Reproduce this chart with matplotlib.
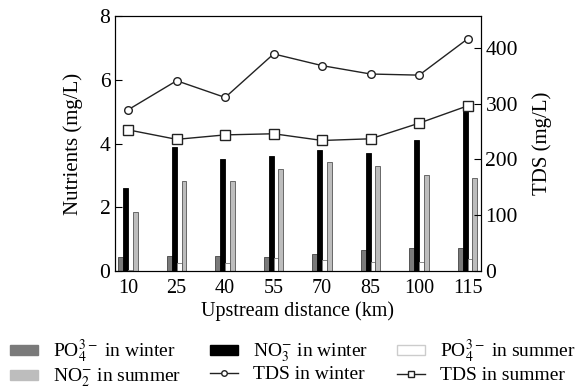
import numpy as np
import matplotlib.pyplot as plt
from matplotlib.lines import Line2D
from matplotlib.patches import Patch

plt.rcParams['font.family'] = ['Liberation Serif', 'DejaVu Serif']
plt.rcParams['mathtext.fontset'] = 'stix'

distance = [10, 25, 40, 55, 70, 85, 100, 115]
po4_winter = [0.43, 0.48, 0.47, 0.43, 0.55, 0.66, 0.71, 0.74]
no3_winter = [2.61, 3.90, 3.51, 3.60, 3.79, 3.71, 4.10, 5.25]
po4_summer = [0.05, 0.25, 0.25, 0.40, 0.34, 0.30, 0.28, 0.38]
no2_summer = [1.84, 2.82, 2.82, 3.20, 3.43, 3.30, 3.00, 2.92]
tds_winter = [289, 341, 311, 389, 368, 353, 351, 416]
tds_summer = [253, 236, 244, 246, 234, 237, 265, 296]

x = np.array(distance, dtype=float)
w = 1.5

fig = plt.figure(figsize=(5.79, 3.89), dpi=100)
ax = fig.add_axes([0.199, 0.303, 0.631, 0.656])

ax.bar(x - 1.5 * w, po4_winter, w, color='#7a7a7a', edgecolor='#444444', linewidth=0.6)
ax.bar(x - 0.5 * w, no3_winter, w, color='black', edgecolor='black', linewidth=0.6)
ax.bar(x + 0.5 * w, po4_summer, w, color='white', edgecolor='#777777', linewidth=0.6)
ax.bar(x + 1.5 * w, no2_summer, w, color='#bdbdbd', edgecolor='#555555', linewidth=0.6)

ax.set_xlim(6, 119)
ax.set_ylim(0, 8)
ax.set_yticks([0, 2, 4, 6, 8])
ax.set_xticks(distance)
ax.tick_params(axis='y', direction='in', length=5, labelsize=15.5)
ax.tick_params(axis='x', length=0, labelsize=14.5, pad=6)
ax.set_ylabel('Nutrients (mg/L)', fontsize=15, labelpad=12)
ax.set_xlabel('Upstream distance (km)', fontsize=14.5, labelpad=2)

ax2 = ax.twinx()
ax2.plot(x, tds_winter, color='#222222', linewidth=1.0, marker='o', markersize=5.5,
         markerfacecolor='white', markeredgecolor='#222222', markeredgewidth=1.0)
ax2.plot(x, tds_summer, color='#222222', linewidth=1.0, marker='s', markersize=7.5,
         markerfacecolor='white', markeredgecolor='#222222', markeredgewidth=1.0)
ax2.set_ylim(0, 457)
ax2.set_yticks([0, 100, 200, 300, 400])
ax2.tick_params(axis='y', direction='in', length=5, labelsize=15.5)
ax2.set_ylabel('TDS (mg/L)', fontsize=15, labelpad=10)

handles = [
    Patch(facecolor='#7a7a7a', edgecolor='#7a7a7a'),
    Patch(facecolor='#bdbdbd', edgecolor='#bdbdbd'),
    Patch(facecolor='black', edgecolor='black'),
    Line2D([], [], color='#222222', lw=1.0, marker='o', markersize=4, markerfacecolor='white'),
    Patch(facecolor='white', edgecolor='#cccccc'),
    Line2D([], [], color='#222222', lw=1.0, marker='s', markersize=5, markerfacecolor='white'),
]
labels = [
    r'PO$_4^{3-}$ in winter',
    r'NO$_2^{-}$ in summer',
    r'NO$_3^{-}$ in winter',
    'TDS in winter',
    r'PO$_4^{3-}$ in summer',
    'TDS in summer',
]
fig.legend(handles, labels, loc='upper left', bbox_to_anchor=(0.017, 0.132), ncol=3,
           frameon=False, fontsize=14, handlelength=1.45, handleheight=0.4,
           handletextpad=0.75, columnspacing=1.5, labelspacing=0.08,
           borderaxespad=0, borderpad=0)

fig.savefig('out.png', dpi=100)
